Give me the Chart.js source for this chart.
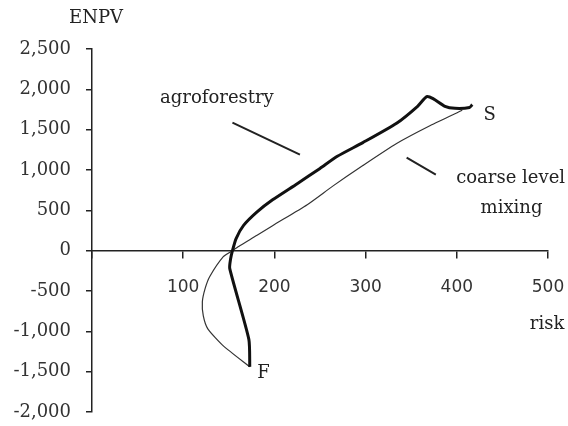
<!DOCTYPE html>
<html>
<head>
<meta charset="utf-8">
<script src="https://cdn.jsdelivr.net/npm/chart.js@4"></script>
<style>
  html, body { margin: 0; padding: 0; background: #fff; }
  #wrap { width: 568px; height: 426px; }
</style>
</head>
<body>
<div id="wrap"><canvas id="riskChart" width="568" height="426"></canvas></div>
<script>
// values (risk on x, ENPV on y), from F up to S
const agroRisk = [173, 172, 151, 152, 154, 158, 166, 181, 198, 225, 250, 269, 297, 334, 357, 367, 374, 387, 398, 414, 417];
const agroEnpv = [-1440, -1100, -220, -100, 0, 150, 310, 480, 630, 830, 1020, 1170, 1340, 1580, 1790, 1910, 1885, 1790, 1765, 1775, 1810];

const coarseRisk = [173, 144, 127, 122, 121, 124, 129, 144, 154, 162, 181, 198, 236, 264, 297, 334, 371, 406];
const coarseEnpv = [-1440, -1180, -970, -806, -633, -471, -323, -74, 0, 62, 190, 310, 570, 800, 1055, 1328, 1551, 1740];

const xTicks = [0, 100, 200, 300, 400, 500];
const yTicks = [-2000, -1500, -1000, -500, 0, 500, 1000, 1500, 2000, 2500];

function toPoints(xs, ys) {
  return xs.map((x, i) => ({ x: x, y: ys[i] }));
}

const serif = "'DejaVu Serif', serif";

// labels and leader lines, placed in data units
const notes = {
  id: "notes",
  afterDatasetsDraw(chart) {
    const ctx = chart.ctx;
    const xs = chart.scales.x;
    const ys = chart.scales.y;
    const px = (v) => xs.getPixelForValue(v);
    const py = (v) => ys.getPixelForValue(v);
    ctx.save();
    ctx.fillStyle = "#222";
    ctx.strokeStyle = "#222";
    ctx.font = "18px " + serif;
    ctx.textAlign = "center";
    ctx.textBaseline = "middle";

    ctx.fillText("agroforestry", px(137), py(1891));
    ctx.fillText("coarse level", px(459), py(893));
    ctx.fillText("mixing", px(460), py(521));
    ctx.fillText("S", px(436), py(1675));
    ctx.fillText("F", px(188), py(-1526));
    ctx.fillText("risk", px(499), py(-918));
    ctx.fillText("ENPV", 96, 18);

    ctx.lineWidth = 2;
    ctx.beginPath();
    ctx.moveTo(px(154), py(1588));
    ctx.lineTo(px(228), py(1191));
    ctx.moveTo(px(345), py(1154));
    ctx.lineTo(px(377), py(943));
    ctx.stroke();
    ctx.restore();
  }
};

new Chart(document.getElementById("riskChart"), {
  type: "scatter",
  data: {
    datasets: [
      {
        label: "agroforestry",
        data: toPoints(agroRisk, agroEnpv),
        showLine: true,
        borderColor: "#111",
        borderWidth: 3,
        pointRadius: 0,
        tension: 0.2
      },
      {
        label: "coarse level mixing",
        data: toPoints(coarseRisk, coarseEnpv),
        showLine: true,
        borderColor: "#333",
        borderWidth: 1.2,
        pointRadius: 0,
        tension: 0.2
      }
    ]
  },
  options: {
    responsive: false,
    animation: false,
    layout: { padding: { top: 49, right: 20, bottom: 14, left: 0 } },
    plugins: {
      legend: { display: false },
      tooltip: { enabled: false }
    },
    scales: {
      x: {
        type: "linear",
        position: { y: 0 },
        min: 0,
        max: 500,
        afterBuildTicks: (s) => { s.ticks = xTicks.map((v) => ({ value: v })); },
        afterFit: (s) => { s.paddingLeft = 0; s.paddingRight = 0; },
        ticks: {
          color: "#333",
          padding: 20,
          maxRotation: 0,
          font: { family: "'DejaVu Sans', sans-serif", size: 17 },
          callback: (v) => (v === 0 ? "" : v)
        },
        grid: { drawOnChartArea: false, drawTicks: true, tickLength: 7, color: "#222", lineWidth: 1.5 },
        border: { display: true, color: "#222", width: 1.5 }
      },
      y: {
        type: "linear",
        position: "left",
        min: -2000,
        max: 2500,
        afterBuildTicks: (s) => { s.ticks = yTicks.map((v) => ({ value: v })); },
        afterFit: (s) => { s.width = 92; s.paddingTop = 0; s.paddingBottom = 0; },
        ticks: {
          color: "#333",
          padding: 15,
          font: { family: serif, size: 18 },
          callback: (v) => v.toLocaleString("en-US")
        },
        grid: { drawOnChartArea: false, drawTicks: true, tickLength: 6, color: "#222", lineWidth: 1.5 },
        border: { display: true, color: "#222", width: 1.5 }
      }
    }
  },
  plugins: [notes]
});
</script>
</body>
</html>
